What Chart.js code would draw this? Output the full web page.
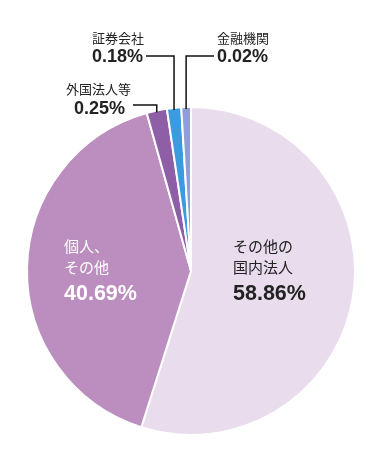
<!DOCTYPE html>
<html><head><meta charset="utf-8">
<script src="https://cdn.jsdelivr.net/npm/chart.js@4"></script>
<style>html,body{margin:0;padding:0;background:#fff}canvas{display:block}</style>
</head><body>
<canvas id="c" width="380" height="450"></canvas>
<script>
// Category names (as shown)
const categories = ["その他の国内法人", "個人、その他", "外国法人等", "証券会社", "金融機関"];
// Displayed label lines
const labelLines = [["その他の", "国内法人"], ["個人、", "その他"], ["外国法人等"], ["証券会社"], ["金融機関"]];
// Shareholding ratios as printed
const percentLabels = ["58.86%", "40.69%", "0.25%", "0.18%", "0.02%"];
// Slice sizes as drawn in the picture (small slices are enlarged for visibility)
const sliceSizes = [54.9, 40.75, 2.0, 1.4, 0.95];
const colors = ["#e9dded", "#bb8ebf", "#8e5fa6", "#3b9be0", "#8f9fd6"];

const FONT = '"Liberation Sans", "Noto Sans CJK JP", sans-serif';

const labelPlugin = {
  id: 'labels',
  afterDraw(chart) {
    const ctx = chart.ctx;
    const arcs = chart.getDatasetMeta(0).data;
    ctx.save();
    ctx.textBaseline = 'alphabetic';
    ctx.textAlign = 'left';
    // inside labels
    const inside = [
      {i: 0, x: 233, y: 252, color: '#222'},
      {i: 1, x: 64, y: 252, color: '#fff'}
    ];
    inside.forEach(o => {
      ctx.fillStyle = o.color;
      ctx.font = '15px ' + FONT;
      labelLines[o.i].forEach((t, k) => ctx.fillText(t, o.x, o.y + k * 20.5));
      ctx.font = 'bold 21.5px ' + FONT;
      ctx.fillText(percentLabels[o.i], o.x, o.y + 48);
    });
    // outside labels with connectors
    const outside = [
      {i: 2, x: 66, px: 74, y: 94, py: 114, lineY: 105, lineX0: 133},
      {i: 3, x: 92, px: 92, y: 43, py: 62, lineY: 56, lineX0: 146},
      {i: 4, x: 217, px: 217, y: 43, py: 62, lineY: 56, lineX0: 214}
    ];
    outside.forEach(o => {
      const a = arcs[o.i];
      const mid = (a.startAngle + a.endAngle) / 2;
      const ex = a.x + a.outerRadius * Math.cos(mid);
      const ey = a.y + a.outerRadius * Math.sin(mid) + 2;
      ctx.fillStyle = '#222';
      ctx.font = '13px ' + FONT;
      ctx.fillText(labelLines[o.i][0], o.x, o.y);
      ctx.font = 'bold 18px ' + FONT;
      ctx.fillText(percentLabels[o.i], o.px, o.py);
      ctx.strokeStyle = '#111';
      ctx.lineWidth = 1.5;
      ctx.beginPath();
      ctx.moveTo(o.lineX0, o.lineY);
      ctx.lineTo(ex, o.lineY);
      ctx.lineTo(ex, ey);
      ctx.stroke();
    });
    ctx.restore();
  }
};

new Chart(document.getElementById('c'), {
  type: 'pie',
  data: {
    labels: categories,
    datasets: [{
      data: sliceSizes,
      backgroundColor: colors,
      borderColor: '#ffffff',
      borderWidth: 2
    }]
  },
  options: {
    responsive: false,
    animation: false,
    layout: {padding: {top: 106, bottom: 14, left: 26, right: 24}},
    plugins: {legend: {display: false}, tooltip: {enabled: false}}
  },
  plugins: [labelPlugin]
});
</script>
</body></html>
